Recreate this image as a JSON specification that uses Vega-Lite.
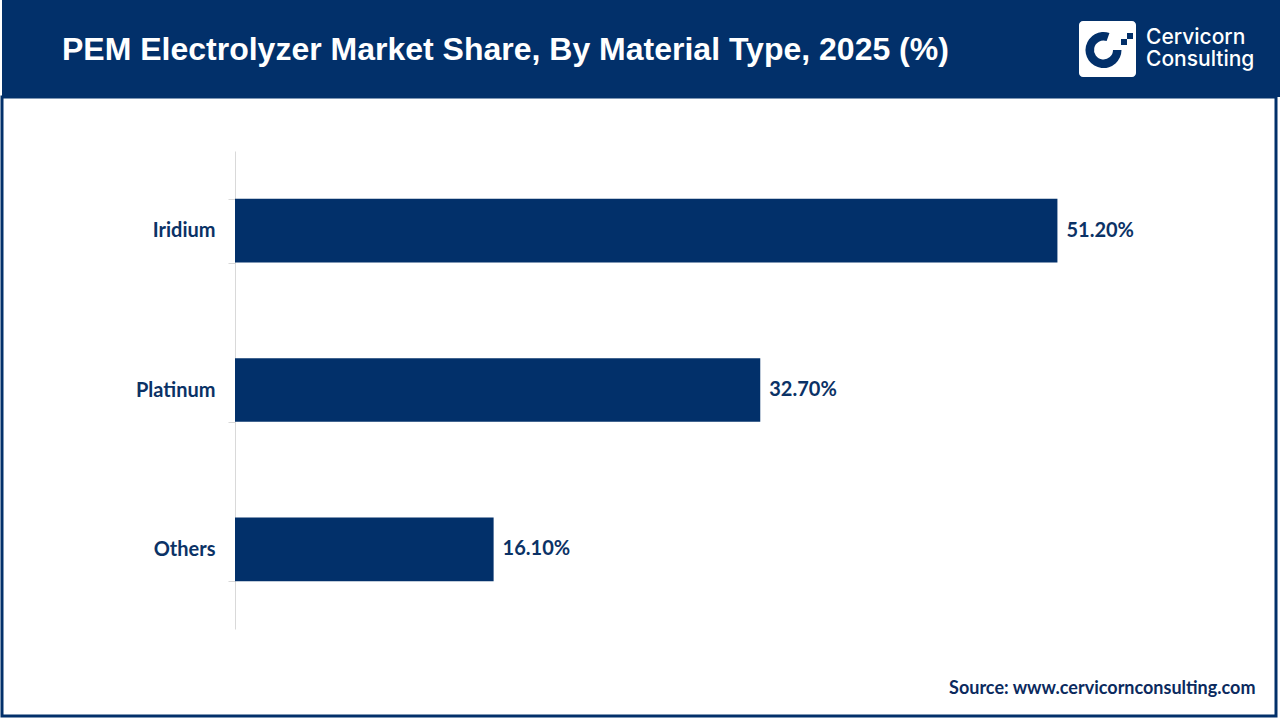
{
  "$schema": "https://vega.github.io/schema/vega-lite/v6.json",
  "padding": {"left": 0, "top": 0, "right": 0, "bottom": 0},
  "background": "white",
  "spacing": 0,
  "bounds": "flush",
  "config": {"view": {"stroke": null}, "concat": {"spacing": 0}},
  "vconcat": [
    {
      "width": 1280,
      "height": 97,
      "view": {"fill": "#02306a", "stroke": null},
      "title": {
        "text": "PEM Electrolyzer Market Share, By Material Type, 2025 (%)",
        "anchor": "start",
        "frame": "group",
        "orient": "top",
        "offset": -92,
        "baseline": "alphabetic",
        "dx": 60,
        "font": "Liberation Sans",
        "fontSize": 32,
        "fontWeight": "bold",
        "color": "white"
      },
      "data": {"values": [{"logo": "Cervicorn Consulting"}]},
      "layer": [
        {"mark": {"type": "rect", "x": 1077, "x2": 1134, "y": 21, "y2": 77, "cornerRadius": 4, "color": "white"}, "encoding": {}},
        {"mark": {"type": "arc", "x": 1101.5, "y": 50, "radius": 18, "radius2": 9.5, "theta": 1.57, "theta2": 6.62, "color": "#02306a"}, "encoding": {}},
        {"mark": {"type": "rect", "x": 1119, "x2": 1125, "y": 39, "y2": 45, "color": "#02306a"}, "encoding": {}},
        {"mark": {"type": "rect", "x": 1125, "x2": 1131, "y": 33, "y2": 39, "color": "#02306a"}, "encoding": {}},
        {"mark": {"type": "text", "text": ["Cervicorn", "Consulting"], "lineHeight": 22, "x": 1144, "y": 44, "align": "left", "baseline": "alphabetic", "font": "Inter", "fontSize": 21, "fontWeight": 500, "color": "white"}, "encoding": {}}
      ]
    },
    {
      "width": 1274,
      "height": 619,
      "view": {"fill": "white", "stroke": "#02306a", "strokeWidth": 3},
      "data": {
        "values": [
          {"material": "Iridium", "share": 51.2, "label": "51.20%"},
          {"material": "Platinum", "share": 32.7, "label": "32.70%"},
          {"material": "Others", "share": 16.1, "label": "16.10%"}
        ]
      },
      "encoding": {
        "y": {
          "field": "material",
          "type": "nominal",
          "sort": null,
          "scale": {"range": [54, 532], "paddingInner": 0.6, "paddingOuter": 0.3},
          "axis": {
            "title": null,
            "offset": -233,
            "domainColor": "#d9d9d9",
            "domainWidth": 1,
            "tickColor": "#d9d9d9",
            "tickSize": 7,
            "tickBand": "extent",
            "labelPadding": 13,
            "labelFont": "Lato",
            "labelFontSize": 20,
            "labelFontWeight": "bold",
            "labelColor": "#0b3266",
            "grid": false
          }
        },
        "x": {
          "field": "share",
          "type": "quantitative",
          "scale": {"domain": [0, 63.5], "range": [233, 1253], "nice": false, "zero": true},
          "axis": {
            "title": "Source: www.cervicornconsulting.com",
            "labels": false,
            "ticks": false,
            "domain": false,
            "grid": false,
            "offset": -23,
            "titleAnchor": "end",
            "titleY": 0,
            "titleBaseline": "alphabetic",
            "titlePadding": 0,
            "titleFont": "Lato",
            "titleFontSize": 18,
            "titleFontWeight": "bold",
            "titleColor": "#0b2a5e"
          }
        }
      },
      "layer": [
        {"mark": {"type": "bar", "color": "#02306a"}},
        {
          "mark": {"type": "text", "align": "left", "baseline": "middle", "dx": 9, "font": "Lato", "fontSize": 20, "fontWeight": "bold", "color": "#0b3266"},
          "encoding": {"text": {"field": "label"}}
        }
      ]
    }
  ]
}
